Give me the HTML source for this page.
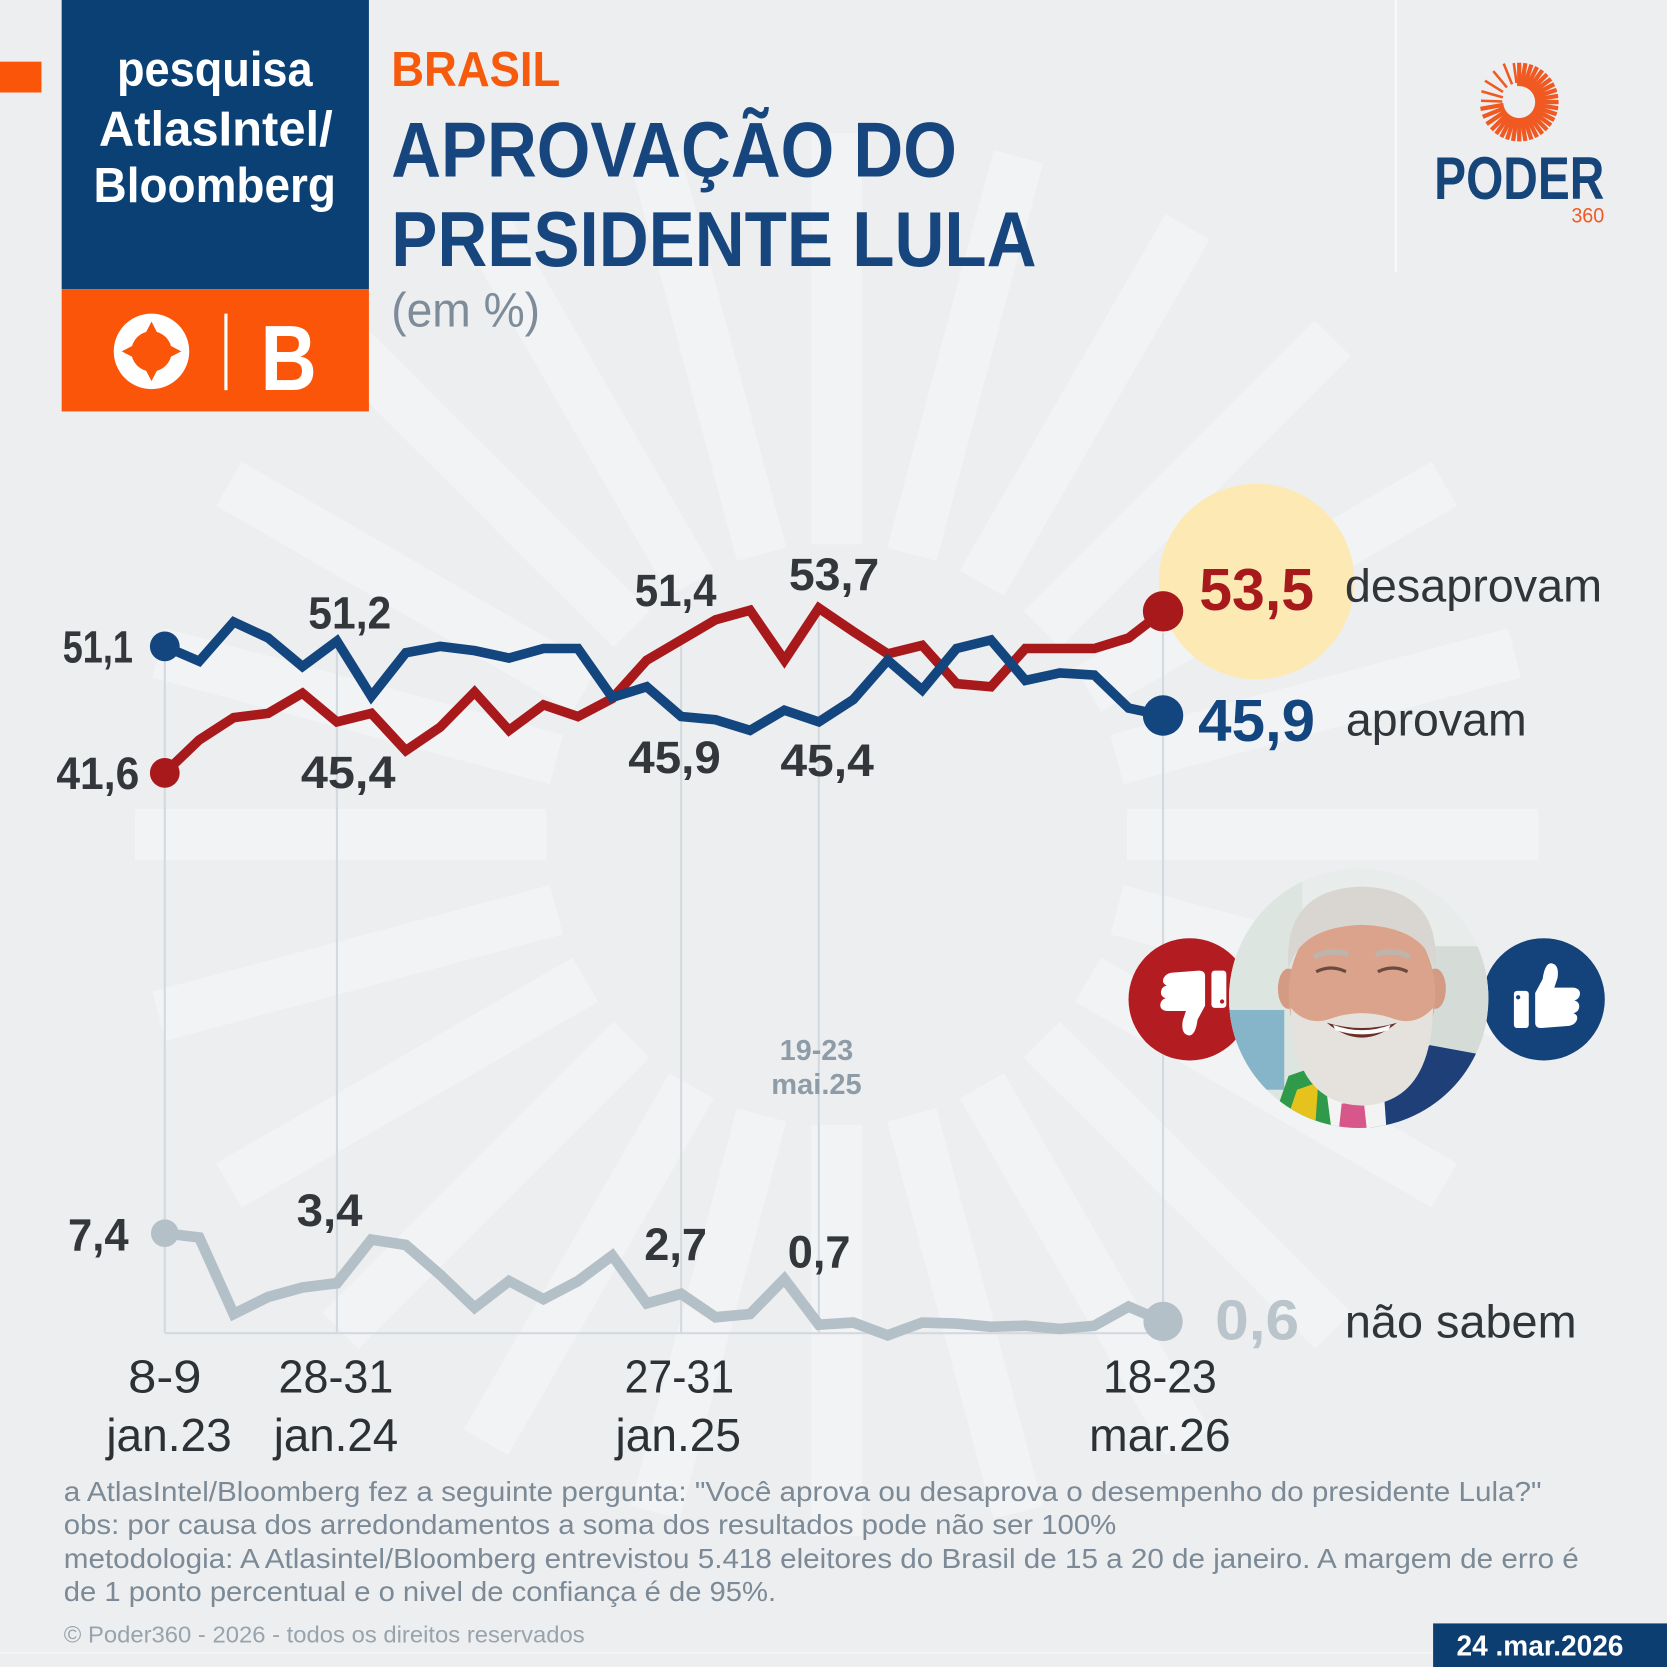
<!DOCTYPE html>
<html><head><meta charset="utf-8"><style>
html,body{margin:0;padding:0;background:#edeef0;}
svg{display:block;}
text{font-family:"Liberation Sans",Arial,sans-serif;}
</style></head><body>
<svg xmlns="http://www.w3.org/2000/svg" width="1667" height="1667" viewBox="0 0 1568 1568">
<defs>
<clipPath id="pc"><circle cx="1278" cy="939" r="122"/></clipPath>
</defs>
<rect width="1568" height="1568" fill="#edeef0"/>
<!-- background sunburst -->
<g fill="#f2f3f5" transform="translate(787,785)">
<rect x="273" y="-24" width="387" height="48" transform="rotate(0)"/>
<rect x="273" y="-24" width="387" height="48" transform="rotate(15)"/>
<rect x="273" y="-24" width="387" height="48" transform="rotate(30)"/>
<rect x="273" y="-24" width="387" height="48" transform="rotate(45)"/>
<rect x="273" y="-24" width="387" height="48" transform="rotate(60)"/>
<rect x="273" y="-24" width="387" height="48" transform="rotate(75)"/>
<rect x="273" y="-24" width="387" height="48" transform="rotate(90)"/>
<rect x="273" y="-24" width="387" height="48" transform="rotate(105)"/>
<rect x="273" y="-24" width="387" height="48" transform="rotate(120)"/>
<rect x="273" y="-24" width="387" height="48" transform="rotate(135)"/>
<rect x="273" y="-24" width="387" height="48" transform="rotate(150)"/>
<rect x="273" y="-24" width="387" height="48" transform="rotate(165)"/>
<rect x="273" y="-24" width="387" height="48" transform="rotate(180)"/>
<rect x="273" y="-24" width="387" height="48" transform="rotate(195)"/>
<rect x="273" y="-24" width="387" height="48" transform="rotate(210)"/>
<rect x="273" y="-24" width="387" height="48" transform="rotate(225)"/>
<rect x="273" y="-24" width="387" height="48" transform="rotate(240)"/>
<rect x="273" y="-24" width="387" height="48" transform="rotate(255)"/>
<rect x="273" y="-24" width="387" height="48" transform="rotate(270)"/>
<rect x="273" y="-24" width="387" height="48" transform="rotate(285)"/>
<rect x="273" y="-24" width="387" height="48" transform="rotate(300)"/>
<rect x="273" y="-24" width="387" height="48" transform="rotate(315)"/>
<rect x="273" y="-24" width="387" height="48" transform="rotate(330)"/>
<rect x="273" y="-24" width="387" height="48" transform="rotate(345)"/>
</g>

<!-- header left -->
<rect x="0" y="58" width="39" height="29" fill="#fa5508"/>
<rect x="58" y="0" width="289" height="272" fill="#0b4075"/>
<rect x="58" y="272" width="289" height="115" fill="#fa5508"/>
<text x="110" y="81" font-size="46" font-weight="bold" fill="#fff" textLength="184" lengthAdjust="spacingAndGlyphs">pesquisa</text>
<text x="93" y="137" font-size="46" font-weight="bold" fill="#fff" textLength="220" lengthAdjust="spacingAndGlyphs">AtlasIntel/</text>
<text x="88" y="190" font-size="46" font-weight="bold" fill="#fff" textLength="228" lengthAdjust="spacingAndGlyphs">Bloomberg</text>
<circle cx="142.5" cy="330.5" r="35.5" fill="#fff"/>
<circle cx="142.5" cy="330.5" r="19" fill="#fa5508"/>
<g fill="#fa5508">
<path d="M135.5,316 L142.5,302.5 L149.5,316Z"/>
<path d="M135.5,345 L142.5,358.5 L149.5,345Z"/>
<path d="M128,323.5 L114.5,330.5 L128,337.5Z"/>
<path d="M157,323.5 L170.5,330.5 L157,337.5Z"/>
</g>
<rect x="211" y="295" width="3" height="72" fill="#fff"/>
<text x="245" y="367" font-size="87" font-weight="bold" fill="#fff" textLength="53" lengthAdjust="spacingAndGlyphs">B</text>

<!-- titles -->
<text x="368" y="81" font-size="46" font-weight="bold" fill="#f65a0c" textLength="159" lengthAdjust="spacingAndGlyphs">BRASIL</text>
<text x="368" y="166" font-size="73" font-weight="bold" fill="#17457d" textLength="532" lengthAdjust="spacingAndGlyphs">APROVAÇÃO DO</text>
<text x="368" y="250" font-size="73" font-weight="bold" fill="#17457d" textLength="607" lengthAdjust="spacingAndGlyphs">PRESIDENTE LULA</text>
<text x="368" y="307" font-size="45" fill="#7d8c98" textLength="140" lengthAdjust="spacingAndGlyphs">(em %)</text>

<!-- poder360 logo -->
<rect x="1312" y="0" width="2" height="256" fill="#f8f9fa"/>
<g transform="translate(1429,96)" stroke="#f05a22" stroke-width="4">
<line x1="15" y1="0" x2="37" y2="0" transform="rotate(-90)"/>
<line x1="15" y1="0" x2="37" y2="0" transform="rotate(-81)"/>
<line x1="15" y1="0" x2="37" y2="0" transform="rotate(-72)"/>
<line x1="15" y1="0" x2="37" y2="0" transform="rotate(-63)"/>
<line x1="15" y1="0" x2="37" y2="0" transform="rotate(-54)"/>
<line x1="15" y1="0" x2="37" y2="0" transform="rotate(-45)"/>
<line x1="15" y1="0" x2="37" y2="0" transform="rotate(-36)"/>
<line x1="15" y1="0" x2="37" y2="0" transform="rotate(-27)"/>
<line x1="15" y1="0" x2="37" y2="0" transform="rotate(-18)"/>
<line x1="15" y1="0" x2="37" y2="0" transform="rotate(-9)"/>
<line x1="15" y1="0" x2="37" y2="0" transform="rotate(0)"/>
<line x1="15" y1="0" x2="37" y2="0" transform="rotate(9)"/>
<line x1="15" y1="0" x2="37" y2="0" transform="rotate(18)"/>
<line x1="15" y1="0" x2="37" y2="0" transform="rotate(27)"/>
<line x1="15" y1="0" x2="37" y2="0" transform="rotate(36)"/>
<line x1="15" y1="0" x2="37" y2="0" transform="rotate(45)"/>
<line x1="15" y1="0" x2="37" y2="0" transform="rotate(54)"/>
<line x1="15" y1="0" x2="37" y2="0" transform="rotate(63)"/>
<line x1="15" y1="0" x2="37" y2="0" transform="rotate(72)"/>
<line x1="15" y1="0" x2="37" y2="0" transform="rotate(81)"/>
<line x1="15" y1="0" x2="37" y2="0" transform="rotate(90)"/>
<line x1="15" y1="0" x2="37" y2="0" transform="rotate(99)"/>
<line x1="15" y1="0" x2="37" y2="0" transform="rotate(108)"/>
<line x1="15" y1="0" x2="37" y2="0" transform="rotate(117)"/>
<line x1="15" y1="0" x2="37" y2="0" transform="rotate(126)"/>
<line x1="15" y1="0" x2="37" y2="0" transform="rotate(135)"/>
<line x1="15" y1="0" x2="37" y2="0" transform="rotate(146)"/>
<line x1="15" y1="0" x2="37" y2="0" transform="rotate(158)"/>
<line x1="15" y1="0" x2="37" y2="0" transform="rotate(170)"/>
<g stroke-width="2.4">
<line x1="16" y1="0" x2="36" y2="0" transform="rotate(182)"/>
<line x1="16" y1="0" x2="37" y2="0" transform="rotate(196)"/>
<line x1="18" y1="0" x2="38" y2="0" transform="rotate(212)"/>
<line x1="18" y1="0" x2="38" y2="0" transform="rotate(230)"/>
<line x1="18" y1="0" x2="39" y2="0" transform="rotate(248)"/>
<line x1="18" y1="0" x2="37" y2="0" transform="rotate(262)"/>
</g>
</g>
<text x="1349" y="187" font-size="57" font-weight="bold" fill="#16457a" textLength="160" lengthAdjust="spacingAndGlyphs">PODER</text>
<text x="1478" y="209.5" font-size="20" fill="#f05a22" textLength="31" lengthAdjust="spacingAndGlyphs">360</text>

<!-- gridlines -->
<g stroke="#d3dadf" stroke-width="2">
<line x1="155" y1="610" x2="155" y2="1254"/>
<line x1="316.9" y1="605" x2="316.9" y2="1254"/>
<line x1="640.7" y1="602" x2="640.7" y2="1254"/>
<line x1="770.2" y1="575" x2="770.2" y2="1254"/>
<line x1="1094" y1="595" x2="1094" y2="1254"/>
<line x1="155" y1="1254" x2="1094" y2="1254"/>
</g>

<!-- yellow highlight -->
<circle cx="1182" cy="547" r="92" fill="#fde9b4"/>

<!-- series -->
<polyline fill="none" stroke="#b3c0c7" stroke-width="10" points="155,1160 187.4,1164 219.8,1236 252.1,1220 284.5,1211 316.9,1207 349.3,1166 381.7,1171 414,1199 446.4,1230 478.8,1205 511.2,1222 543.6,1205 575.9,1181 608.3,1226 640.7,1217 673.1,1239 705.5,1236 737.8,1203 770.2,1246 802.6,1244 835,1256 867.4,1244 899.7,1245 932.1,1248 964.5,1247 996.9,1250 1029.3,1247 1061.6,1229 1094,1243"/>
<polyline fill="none" stroke="#a8191c" stroke-width="9" points="155,727 187.4,696 219.8,675 252.1,671 284.5,652 316.9,679 349.3,671 381.7,706 414,684 446.4,651 478.8,687 511.2,663 543.6,674 575.9,657 608.3,621 640.7,602 673.1,583 705.5,574 737.8,621 770.2,572 802.6,594 835,615 867.4,607 899.7,643 932.1,646 964.5,610 996.9,610 1029.3,610 1061.6,600 1094,575"/>
<polyline fill="none" stroke="#13457f" stroke-width="9" points="155,608 187.4,622 219.8,585 252.1,600 284.5,627 316.9,603 349.3,655 381.7,614 414,608 446.4,612 478.8,619 511.2,610 543.6,610 575.9,656 608.3,646 640.7,674 673.1,677 705.5,687 737.8,668 770.2,679 802.6,658 835,621 867.4,649 899.7,610 932.1,602 964.5,640 996.9,633 1029.3,635 1061.6,666 1094,673"/>
<circle cx="155" cy="608" r="14" fill="#13457f"/>
<circle cx="155" cy="727" r="14" fill="#a8191c"/>
<circle cx="155" cy="1160" r="13" fill="#b3c0c7"/>
<circle cx="1094" cy="575" r="19" fill="#a8191c"/>
<circle cx="1094" cy="673" r="19" fill="#13457f"/>
<circle cx="1094" cy="1243" r="18.5" fill="#b3c0c7"/>

<!-- data labels -->
<g font-size="43" font-weight="bold" fill="#33373c">
<text x="59" y="623" textLength="66" lengthAdjust="spacingAndGlyphs">51,1</text>
<text x="53" y="742" textLength="78" lengthAdjust="spacingAndGlyphs">41,6</text>
<text x="290" y="591" textLength="78" lengthAdjust="spacingAndGlyphs">51,2</text>
<text x="283" y="741" textLength="89" lengthAdjust="spacingAndGlyphs">45,4</text>
<text x="597" y="570" textLength="77" lengthAdjust="spacingAndGlyphs">51,4</text>
<text x="742" y="555" textLength="85" lengthAdjust="spacingAndGlyphs">53,7</text>
<text x="591" y="727" textLength="87" lengthAdjust="spacingAndGlyphs">45,9</text>
<text x="734" y="730" textLength="88" lengthAdjust="spacingAndGlyphs">45,4</text>
<text x="64" y="1176" textLength="57" lengthAdjust="spacingAndGlyphs">7,4</text>
<text x="279" y="1153" textLength="62" lengthAdjust="spacingAndGlyphs">3,4</text>
<text x="606" y="1185" textLength="59" lengthAdjust="spacingAndGlyphs">2,7</text>
<text x="741" y="1192" textLength="59" lengthAdjust="spacingAndGlyphs">0,7</text>
</g>
<g font-size="27" font-weight="bold" fill="#8e9ca7" text-anchor="middle">
<text x="768" y="997" textLength="69" lengthAdjust="spacingAndGlyphs">19-23</text>
<text x="768" y="1029" textLength="85" lengthAdjust="spacingAndGlyphs">mai.25</text>
</g>

<!-- end labels -->
<text x="1128" y="574" font-size="56" font-weight="bold" fill="#a8191c" textLength="108" lengthAdjust="spacingAndGlyphs">53,5</text>
<text x="1265" y="566" font-size="44" fill="#30353a" textLength="242" lengthAdjust="spacingAndGlyphs">desaprovam</text>
<text x="1127" y="697" font-size="56" font-weight="bold" fill="#13457f" textLength="110" lengthAdjust="spacingAndGlyphs">45,9</text>
<text x="1266" y="692" font-size="44" fill="#30353a" textLength="170" lengthAdjust="spacingAndGlyphs">aprovam</text>
<text x="1143" y="1260" font-size="53" font-weight="bold" fill="#b9c4cb" textLength="79" lengthAdjust="spacingAndGlyphs">0,6</text>
<text x="1265" y="1258" font-size="44" fill="#30353a" textLength="218" lengthAdjust="spacingAndGlyphs">não sabem</text>

<!-- x axis labels -->
<g font-size="44" fill="#2c3136" text-anchor="middle">
<text x="155" y="1310" textLength="69" lengthAdjust="spacingAndGlyphs">8-9</text>
<text x="159" y="1365" textLength="118" lengthAdjust="spacingAndGlyphs">jan.23</text>
<text x="316" y="1310" textLength="108" lengthAdjust="spacingAndGlyphs">28-31</text>
<text x="316" y="1365" textLength="117" lengthAdjust="spacingAndGlyphs">jan.24</text>
<text x="639" y="1310" textLength="103" lengthAdjust="spacingAndGlyphs">27-31</text>
<text x="638" y="1365" textLength="118" lengthAdjust="spacingAndGlyphs">jan.25</text>
<text x="1091" y="1310" textLength="107" lengthAdjust="spacingAndGlyphs">18-23</text>
<text x="1091" y="1365" textLength="133" lengthAdjust="spacingAndGlyphs">mar.26</text>
</g>

<!-- thumbs -->
<circle cx="1119" cy="940" r="57.5" fill="#b31d22"/>
<circle cx="1452" cy="940" r="57.5" fill="#13437a"/>
<g fill="#fff">
<rect x="1424" y="932" width="14" height="35" rx="3"/>
<path d="M1444,934 L1451,921 Q1453,906 1459,906 Q1467,907 1465,920 L1462,929 L1480,929 Q1487,930 1486,936 Q1485,940 1481,941 Q1487,943 1485,949 Q1484,952 1480,953 Q1485,955 1483,960 Q1481,964 1476,965 L1450,967 Q1444,967 1444,962 Z"/>
</g>
<circle cx="1428" cy="938" r="2" fill="#13437a"/>
<g fill="#fff" transform="translate(1122.5,943.5) rotate(180) translate(-1455,-936.5)">
<rect x="1424" y="932" width="14" height="35" rx="3"/>
<path d="M1444,934 L1451,921 Q1453,906 1459,906 Q1467,907 1465,920 L1462,929 L1480,929 Q1487,930 1486,936 Q1485,940 1481,941 Q1487,943 1485,949 Q1484,952 1480,953 Q1485,955 1483,960 Q1481,964 1476,965 L1450,967 Q1444,967 1444,962 Z"/>
<circle cx="1428" cy="938" r="2" fill="#b31d22"/>
</g>

<!-- photo -->
<g clip-path="url(#pc)">
<rect x="1150" y="810" width="260" height="260" fill="#e8ecea"/>
<rect x="1150" y="810" width="75" height="260" fill="#dde5e1"/>
<rect x="1150" y="950" width="58" height="75" fill="#86b4c9"/>
<rect x="1335" y="890" width="75" height="130" fill="#d5dcd8"/>
<path d="M1285,1075 L1298,1010 L1345,983 L1410,995 L1410,1075Z" fill="#1f3f78"/>
<path d="M1190,1075 L1212,1012 L1252,998 L1262,1075Z" fill="#2f9a4a"/>
<path d="M1203,1075 L1220,1025 L1240,1018 L1236,1075Z" fill="#e6c21c"/>
<path d="M1244,998 L1300,1003 L1305,1075 L1254,1075Z" fill="#f3f3f3"/>
<path d="M1262,1038 L1283,1038 L1287,1075 L1258,1075Z" fill="#d8578b"/>
<ellipse cx="1212" cy="930" rx="10" ry="19" fill="#d39a84"/>
<ellipse cx="1350" cy="930" rx="10" ry="19" fill="#d39a84"/>
<ellipse cx="1281" cy="935" rx="69" ry="84" fill="#dba38b"/>
<path d="M1212,912 Q1206,836 1281,834 Q1356,836 1350,912 Q1340,872 1281,870 Q1222,872 1212,912Z" fill="#d9d5d0"/>
<path d="M1214,948 Q1216,1038 1281,1040 Q1346,1038 1348,948 Q1332,966 1310,958 Q1281,948 1252,958 Q1230,966 1214,948Z" fill="#e5e1dd"/>
<path d="M1248,962 Q1281,990 1314,962 Q1281,972 1248,962Z" fill="#6a2f28"/>
<path d="M1254,964 Q1281,974 1308,964 L1306,969 Q1281,977 1256,969Z" fill="#fafafa"/>
<path d="M1238,914 Q1252,907 1266,914" stroke="#6b4a40" stroke-width="3" fill="none"/>
<path d="M1296,914 Q1310,907 1324,914" stroke="#6b4a40" stroke-width="3" fill="none"/>
<path d="M1236,900 Q1252,892 1268,898" stroke="#bdb4ad" stroke-width="5" fill="none"/>
<path d="M1294,898 Q1310,892 1326,900" stroke="#bdb4ad" stroke-width="5" fill="none"/>
</g>

<!-- footnotes -->
<g font-size="26" fill="#7b8a96">
<text x="60" y="1412" textLength="1390" lengthAdjust="spacingAndGlyphs">a AtlasIntel/Bloomberg fez a seguinte pergunta: "Você aprova ou desaprova o desempenho do presidente Lula?"</text>
<text x="60" y="1443" textLength="990" lengthAdjust="spacingAndGlyphs">obs: por causa dos arredondamentos a soma dos resultados pode não ser 100%</text>
<text x="60" y="1475" textLength="1425" lengthAdjust="spacingAndGlyphs">metodologia: A Atlasintel/Bloomberg entrevistou 5.418 eleitores do Brasil de 15 a 20 de janeiro. A margem de erro é</text>
<text x="60" y="1506" textLength="670" lengthAdjust="spacingAndGlyphs">de 1 ponto percentual e o nivel de confiança é de 95%.</text>
</g>
<text x="60" y="1545" font-size="22" fill="#98a4ad" textLength="490" lengthAdjust="spacingAndGlyphs">© Poder360 - 2026 - todos os direitos reservados</text>
<line x1="0" y1="1555" x2="1348" y2="1555" stroke="#f4f5f6" stroke-width="1.5"/>
<rect x="1348" y="1527" width="220" height="41" fill="#0d3e72"/>
<text x="1370" y="1557" font-size="27" font-weight="bold" fill="#fff" textLength="157" lengthAdjust="spacingAndGlyphs">24 .mar.2026</text>
</svg>
</body></html>
